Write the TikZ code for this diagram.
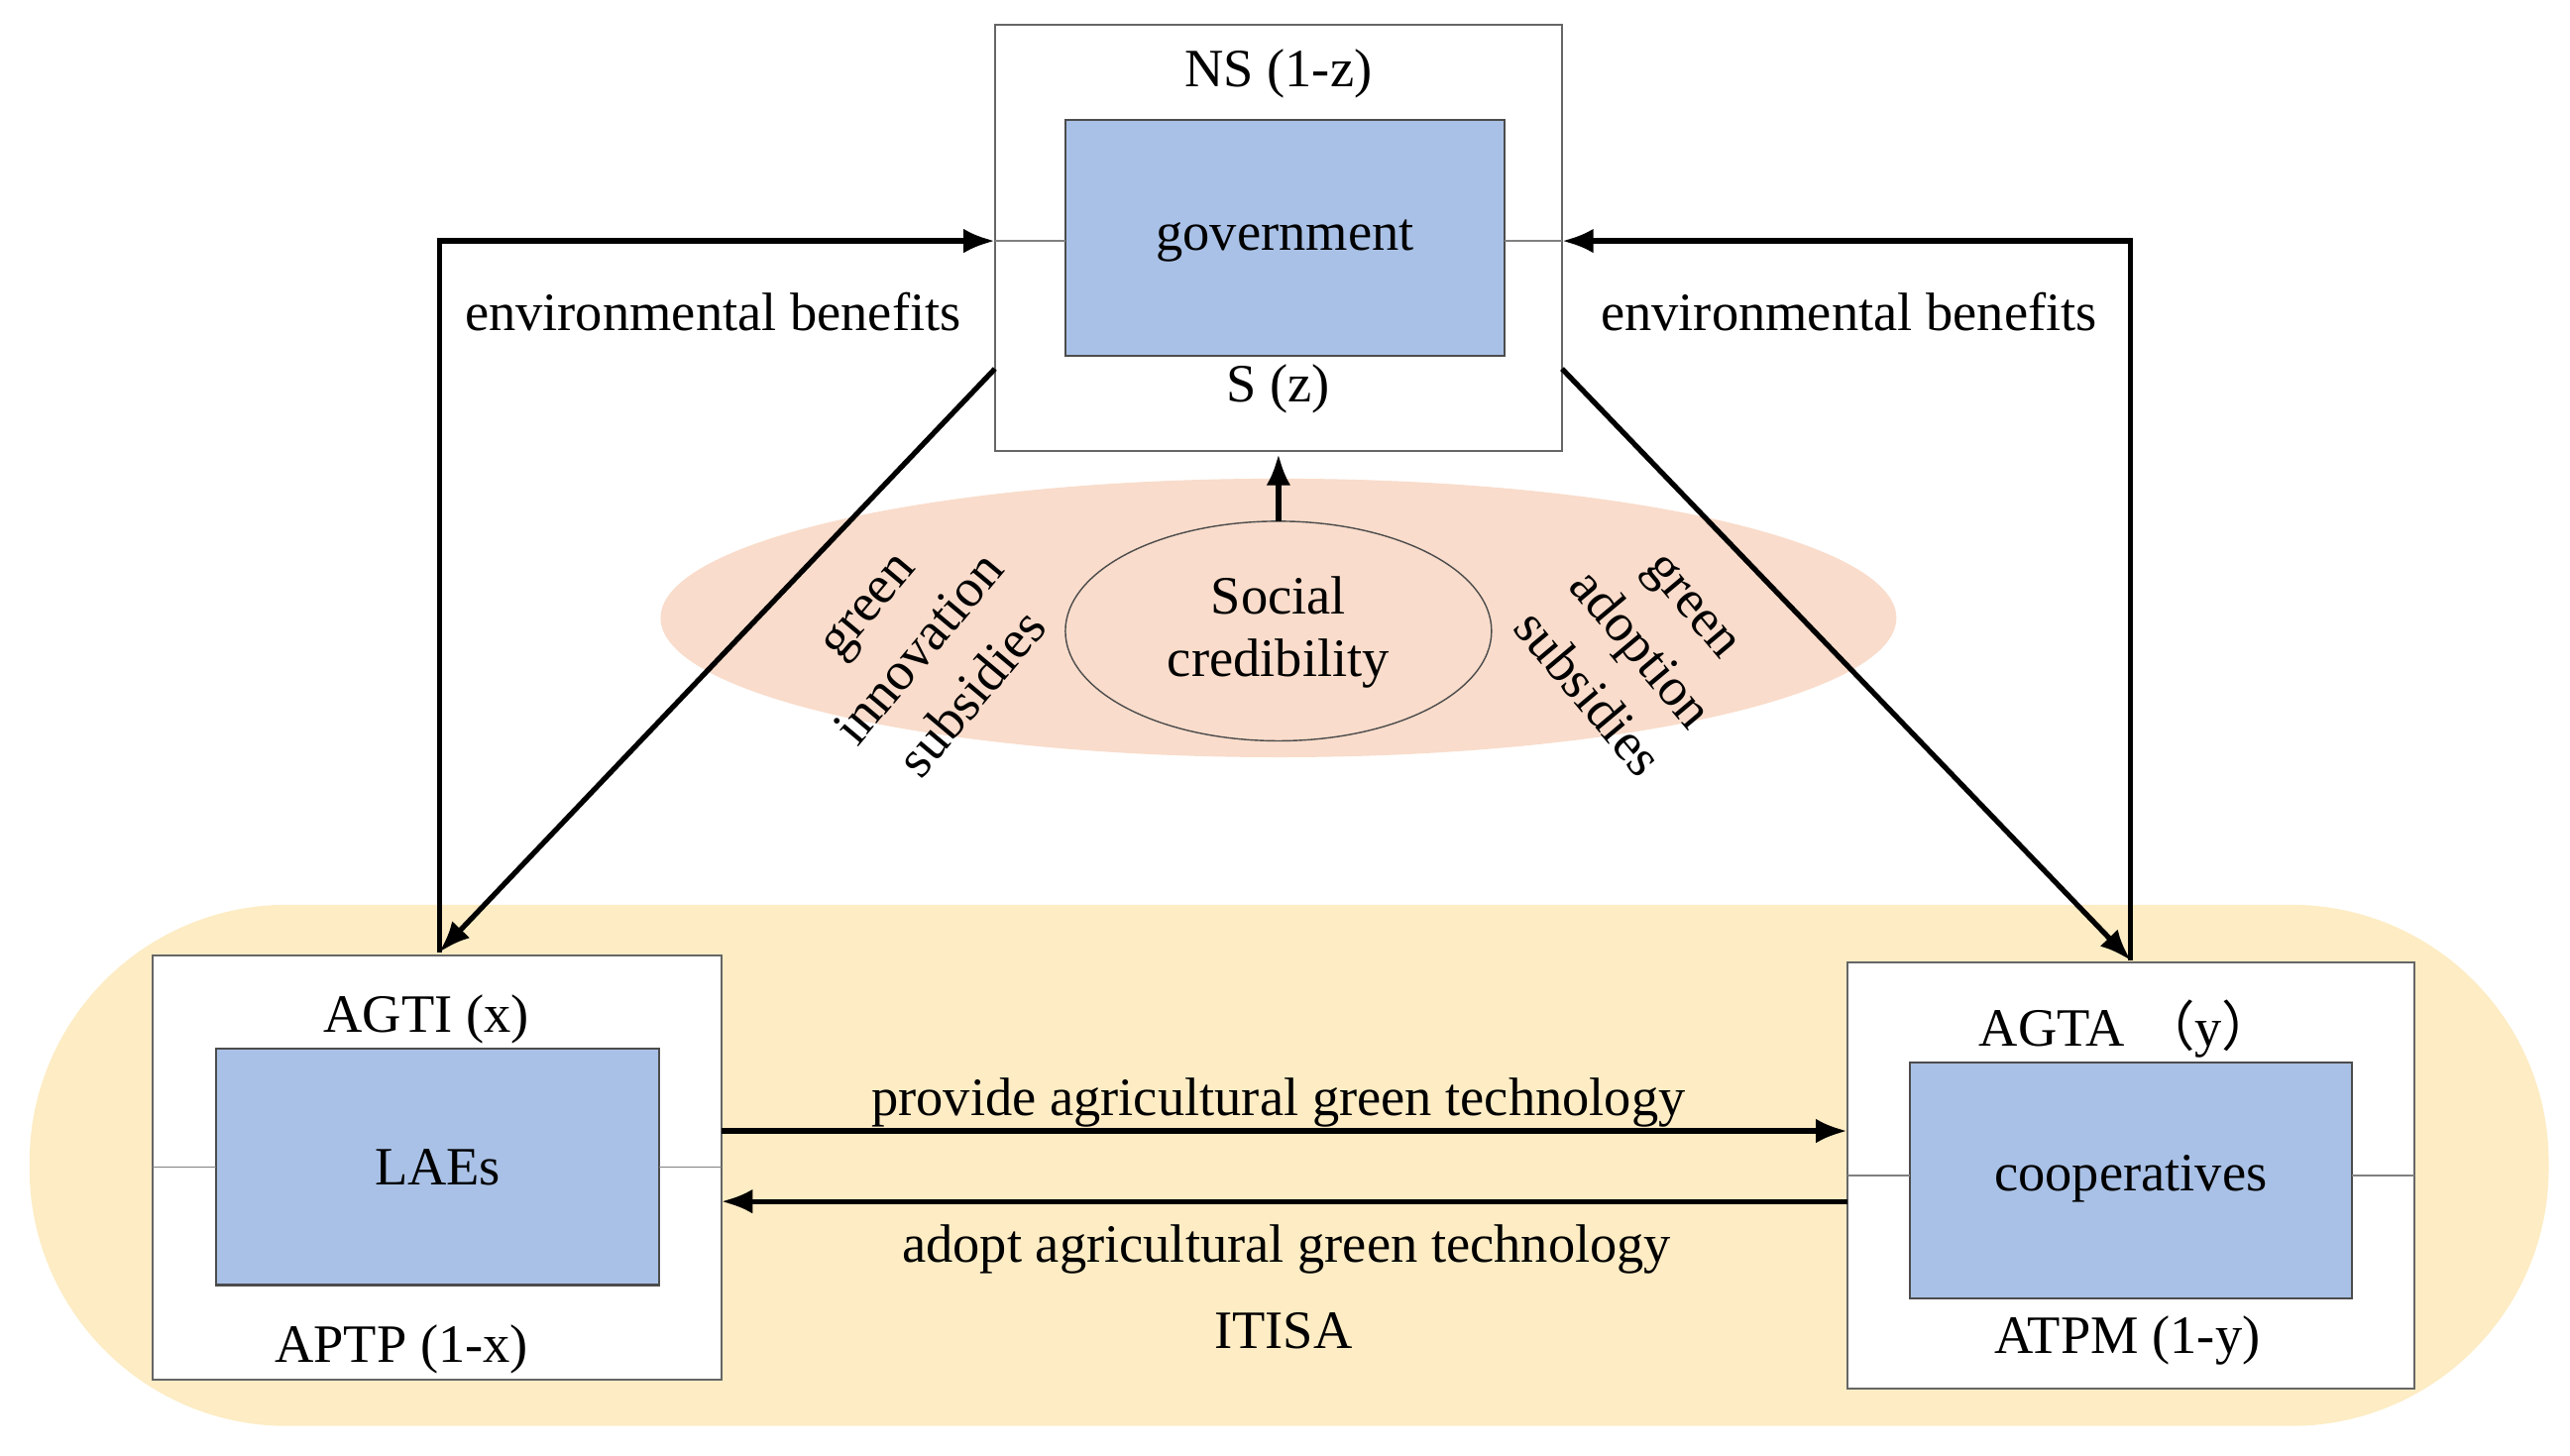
\documentclass[tikz,border=0pt]{standalone}
\usepackage{fontspec}
\setmainfont{Liberation Serif}
\newfontfamily\cjk{Noto Sans CJK SC}
\usetikzlibrary{arrows.meta}
\definecolor{blu}{HTML}{A9C1E6}
\definecolor{peach}{HTML}{F9DCCB}
\definecolor{band}{HTML}{FDECC4}
\begin{document}
\begin{tikzpicture}[x=0.01654cm,y=-0.01654cm,
  every node/.style={font=\fontsize{15.5}{18}\selectfont},
  outer/.style={draw=black!60,fill=white,line width=0.6pt},
  inner/.style={draw=black!70,fill=blu,line width=0.6pt},
  thin/.style={draw=black!50,line width=0.5pt},
  arr/.style={line width=1.5pt,-{Latex[length=9pt,width=7pt]}}]
\useasboundingbox (0,0) rectangle (1568,888);
\fill[band, rounded corners=2.6cm] (18,552) rectangle (1555,870);
% peach ellipse
\fill[peach] (780,377) ellipse [x radius=377, y radius=85];
\draw[black!70] (780,385) ellipse [x radius=130, y radius=67];
\node[align=center] (soc) at (780,386) {Social\\credibility};
% government
\draw[outer] (607,15) rectangle (953,275);
\coordinate (gL) at (607,147); \coordinate (gR) at (953,147);
\draw[inner] (650,73) rectangle (918,217);
\node (gov) at (784,147) {government};
\node (ns) at (780,45) {NS (1-z)};
\node (sz) at (780,237) {S (z)};
\draw[thin] (607,147) -- (650,147) (918,147) -- (953,147);
% LAEs
\draw[outer] (93,583) rectangle (440,842);
\draw[inner] (132,640) rectangle (402,784);
\node (lae) at (267,712) {LAEs};
\node at (260,622) {AGTI (x)};
\node at (245,823) {APTP (1-x)};
\draw[thin] (93,712) -- (132,712) (402,712) -- (440,712);
% cooperatives
\draw[outer] (1127,587) rectangle (1473,847);
\draw[inner] (1165,648) rectangle (1435,792);
\node (coop) at (1300,719) {cooperatives};
\node at (1298,628) {AGTA\hspace{0.3em}{\cjk （}y{\cjk ）}};
\node at (1298,818) {ATPM (1-y)};
\draw[thin] (1127,717) -- (1165,717) (1435,717) -- (1473,717);
% arrows
\coordinate (lt) at (268,581); \coordinate (rt) at (1300,586);
\draw[arr] (lt) |- (gL);
\draw[arr] (rt) |- (gR);
\draw[arr] (607,225) -- (lt);
\draw[arr] (953,225) -- (rt);
\draw[arr] (780,318) -- (780,277);
\draw[arr] (440,690) -- (1127,690);
\draw[arr] (1127,733) -- (440,733);
\node at (435,190) {environmental benefits};
\node at (1128,190) {environmental benefits};
\node at (780,673) {provide agricultural green technology};
\node at (785,762) {adopt agricultural green technology};
\node at (783,812) {ITISA};
\node[align=center,rotate=50,font=\fontsize{15.5}{20}\selectfont] at (562,397) {green\\innovation\\subsidies};
\node[align=center,rotate=-50,font=\fontsize{15.5}{20}\selectfont] at (1000,397) {green\\adoption\\subsidies};
\end{tikzpicture}
\end{document}
